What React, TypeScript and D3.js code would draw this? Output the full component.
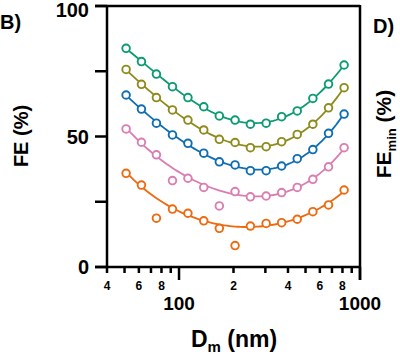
import React from "react";
import * as d3 from "d3";

// Mobility diameter (nm) of each measured size bin
const diameters = [51, 62, 75, 92, 112, 137, 167, 204, 248, 303, 369, 450, 549, 670, 817];

// Filtration efficiency (%) per series
const feGreen = [83.8, 78.7, 73.9, 69.1, 64.9, 61.4, 57.9, 56.3, 54.7, 55.1, 57.6, 59.8, 64.6, 70.1, 77.4];
const feOlive = [75.7, 70.0, 64.9, 60.2, 56.3, 52.5, 48.9, 47.7, 45.7, 46.1, 48.0, 50.8, 54.7, 61.0, 68.7];
const feBlue = [65.9, 60.5, 55.1, 50.6, 47.4, 43.6, 40.3, 39.1, 36.9, 36.9, 38.7, 41.5, 45.0, 51.2, 58.6];
const fePink = [52.9, 47.8, 43.0, 33.1, 34.0, 30.5, 23.4, 28.9, 26.9, 27.2, 28.5, 30.5, 33.6, 38.4, 45.7];
const feOrange = [35.9, 31.4, 18.7, 22.2, 20.6, 17.7, 14.8, 8.2, 15.7, 16.7, 17.0, 18.3, 21.2, 23.8, 29.5];

// indices of points excluded from the fitted curve
const outGreen: number[] = [];
const outOlive: number[] = [];
const outBlue: number[] = [];
const outPink = [3, 6];
const outOrange = [2, 7];

const seriesColors = ["#0A9B72", "#8E8A1B", "#0E6DB3", "#DA7DB2", "#EE6A10"];

const yTicks = [0, 25, 50, 75, 100];
const yTickLabels = ["0", "", "50", "", "100"];
const xMinorTicks = [50, 60, 70, 80, 90, 200, 300, 400, 500, 600, 700, 800, 900];
const xMajorTicks = [100, 1000];
const xMajorLabels = ["100", "1000"];
const xMinorLabelValues = [40, 60, 80, 200, 400, 600, 800];
const xMinorLabels = ["4", "6", "8", "2", "4", "6", "8"];

const FONT = "'Liberation Sans', Arial, Helvetica, sans-serif";

// least-squares polynomial fit in log10(d)
function polyFit(xs: number[], ys: number[], deg: number): number[] {
  const n = deg + 1;
  const A: number[][] = Array.from({ length: n }, () => new Array(n + 1).fill(0));
  for (let k = 0; k < xs.length; k++) {
    const p: number[] = [];
    for (let i = 0; i < n; i++) p.push(Math.pow(xs[k], i));
    for (let i = 0; i < n; i++) {
      for (let j = 0; j < n; j++) A[i][j] += p[i] * p[j];
      A[i][n] += p[i] * ys[k];
    }
  }
  for (let c = 0; c < n; c++) {
    let piv = c;
    for (let r = c + 1; r < n; r++) if (Math.abs(A[r][c]) > Math.abs(A[piv][c])) piv = r;
    [A[c], A[piv]] = [A[piv], A[c]];
    for (let r = 0; r < n; r++) {
      if (r === c) continue;
      const f = A[r][c] / A[c][c];
      for (let k = c; k <= n; k++) A[r][k] -= f * A[c][k];
    }
  }
  return A.map((row, i) => row[n] / row[i]);
}

export default function App() {
  const x = d3.scaleLog().domain([40, 1000]).range([107, 360]);
  const y = d3.scaleLinear().domain([0, 100]).range([267, 6]);

  const series = [
    { v: feGreen, out: outGreen },
    { v: feOlive, out: outOlive },
    { v: feBlue, out: outBlue },
    { v: fePink, out: outPink },
    { v: feOrange, out: outOrange },
  ];

  const line = d3
    .line<[number, number]>()
    .x((d) => x(d[0]))
    .y((d) => y(d[1]));

  const c0 = Math.log10(200);
  const fitCurve = (vals: number[], out: number[]): [number, number][] => {
    const xs: number[] = [];
    const ys: number[] = [];
    diameters.forEach((d, i) => {
      if (!out.includes(i)) {
        xs.push(Math.log10(d) - c0);
        ys.push(vals[i]);
      }
    });
    const coef = polyFit(xs, ys, 4);
    const lo = Math.log10(diameters[0]);
    const hi = Math.log10(diameters[diameters.length - 1]);
    const pts: [number, number][] = [];
    const N = 80;
    for (let k = 0; k <= N; k++) {
      const t = lo + ((hi - lo) * k) / N;
      const u = t - c0;
      let v = 0;
      for (let i = coef.length - 1; i >= 0; i--) v = v * u + coef[i];
      pts.push([Math.pow(10, t), v]);
    }
    return pts;
  };

  const axisColor = "#000";
  const sw = 2.5;

  return (
    <svg
      width={400}
      height={355}
      style={{ position: "absolute", left: 0, top: 0, background: "#fff" }}
      fontFamily={FONT}
    >
      <rect x={0} y={0} width={400} height={355} fill="#fff" />
      {/* panel labels */}
      <text x={0} y={29} fontSize={20} fontWeight="bold">B)</text>
      <text x={373} y={33} fontSize={20} fontWeight="bold">D)</text>

      {/* y axis title */}
      <text
        transform={`translate(28,${136}) rotate(-90)`}
        textAnchor="middle"
        fontSize={20}
        fontWeight="bold"
      >
        FE (%)
      </text>
      {/* right title */}
      <text
        transform={`translate(391,${134}) rotate(-90)`}
        textAnchor="middle"
        fontSize={21}
        fontWeight="bold"
      >
        FE<tspan fontSize={13} dy={5}>min</tspan>
        <tspan dy={-5}> (%)</tspan>
      </text>
      {/* x axis title */}
      <text x={234} y={347} textAnchor="middle" fontSize={23} fontWeight="bold">
        D<tspan fontSize={15} dy={5}>m</tspan>
        <tspan dy={-5}> (nm)</tspan>
      </text>

      {/* frame */}
      <line x1={95} x2={x(1000)} y1={y(100)} y2={y(100)} stroke={axisColor} strokeWidth={sw} />
      <line x1={x(1000)} x2={x(1000)} y1={y(100) - 1} y2={280} stroke={axisColor} strokeWidth={sw} />
      <line x1={x(40)} x2={x(40)} y1={y(100)} y2={273} stroke={axisColor} strokeWidth={sw} />
      <line x1={95} x2={x(1000)} y1={y(0)} y2={y(0)} stroke={axisColor} strokeWidth={sw} />

      {/* y ticks */}
      {yTicks.map((t, i) => (
        <g key={"yt" + t}>
          <line x1={95} x2={x(40)} y1={y(t)} y2={y(t)} stroke={axisColor} strokeWidth={sw} />
          {yTickLabels[i] && (
            <text
              x={89}
              y={Math.max(y(t), 10)}
              dy="0.36em"
              textAnchor="end"
              fontSize={20}
              fontWeight="bold"
            >
              {yTickLabels[i]}
            </text>
          )}
        </g>
      ))}

      {/* x ticks */}
      {xMinorTicks.map((t) => (
        <line key={"xm" + t} x1={x(t)} x2={x(t)} y1={y(0)} y2={273} stroke={axisColor} strokeWidth={sw} />
      ))}
      {xMajorTicks.map((t, i) => (
        <g key={"xM" + t}>
          <line x1={x(t)} x2={x(t)} y1={y(0)} y2={280} stroke={axisColor} strokeWidth={sw} />
          <text x={x(t)} y={310} textAnchor="middle" fontSize={19} fontWeight="bold">
            {xMajorLabels[i]}
          </text>
        </g>
      ))}
      {xMinorLabelValues.map((t, i) => (
        <text key={"xl" + i} x={x(t)} y={290} textAnchor="middle" fontSize={12} fontWeight="bold">
          {xMinorLabels[i]}
        </text>
      ))}

      {/* fitted curves */}
      {series.map((s, si) => (
        <path
          key={"l" + si}
          d={line(fitCurve(s.v, s.out)) || ""}
          fill="none"
          stroke={seriesColors[si]}
          strokeWidth={1.8}
        />
      ))}
      {/* markers */}
      {series.map((s, si) =>
        diameters.map((d, i) => (
          <circle
            key={"c" + si + "-" + i}
            cx={x(d)}
            cy={y(s.v[i])}
            r={3.8}
            fill="#fff"
            stroke={seriesColors[si]}
            strokeWidth={1.9}
          />
        ))
      )}
    </svg>
  );
}
